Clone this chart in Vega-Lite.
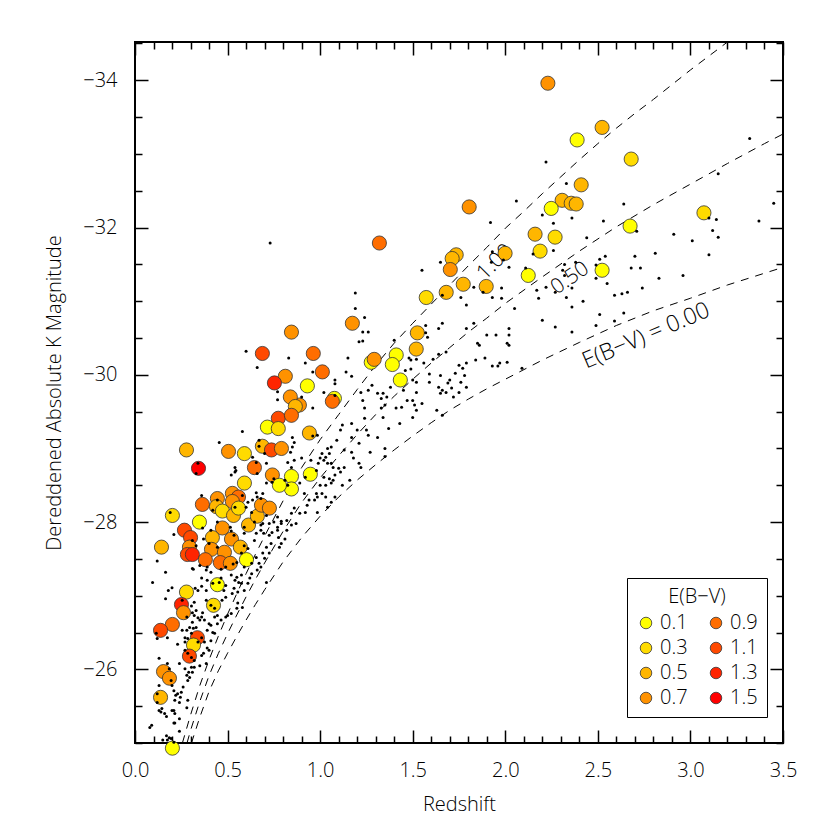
{
"$schema":"https://vega.github.io/schema/vega-lite/v6.json",
"width":648,"height":701,
"autosize":{"type":"none"},
"padding":{"left":135,"top":42,"right":47,"bottom":87},
"background":"white",
"config":{
"view":{"stroke":"black","strokeWidth":2},
"font":"Open Sans",
"axis":{"domain":false,"grid":false,"tickColor":"black","tickWidth":1.5,"labelFont":"Open Sans","labelFontSize":20,"labelColor":"black","labelFontWeight":300,"titleFont":"Open Sans","titleFontSize":20,"titleFontWeight":300,"titleColor":"black"},
"legend":{"orient":"none","legendX":492,"legendY":536,"columns":2,"direction":"vertical","titleFontSize":20,"titleFontWeight":300,"titleFont":"Open Sans","titleColor":"black","titleAnchor":"middle","titleAlign":"center","labelFontSize":20,"labelFont":"Open Sans","labelFontWeight":300,"labelColor":"black","symbolSize":133,"symbolType":"circle","symbolStrokeColor":"#333333","symbolStrokeWidth":0.8,"symbolOpacity":1,"strokeColor":"black","padding":9,"rowPadding":5,"columnPadding":18,"labelOffset":4,"titlePadding":6,"fillColor":"white"}
},
"datasets":{
"curves":[
{"c":"0.00","z":0.305,"m":-25.0},{"c":"0.00","z":0.35,"m":-25.35},{"c":"0.00","z":0.40,"m":-25.70},{"c":"0.00","z":0.45,"m":-25.98},{"c":"0.00","z":0.50,"m":-26.22},{"c":"0.00","z":0.55,"m":-26.45},{"c":"0.00","z":0.60,"m":-26.67},{"c":"0.00","z":0.65,"m":-26.88},{"c":"0.00","z":0.70,"m":-27.08},{"c":"0.00","z":0.80,"m":-27.46},{"c":"0.00","z":0.90,"m":-27.79},{"c":"0.00","z":1.00,"m":-28.08},{"c":"0.00","z":1.10,"m":-28.34},{"c":"0.00","z":1.20,"m":-28.57},{"c":"0.00","z":1.30,"m":-28.78},{"c":"0.00","z":1.40,"m":-28.98},{"c":"0.00","z":1.50,"m":-29.17},{"c":"0.00","z":1.60,"m":-29.35},{"c":"0.00","z":1.70,"m":-29.52},{"c":"0.00","z":1.80,"m":-29.67},{"c":"0.00","z":1.90,"m":-29.81},{"c":"0.00","z":2.00,"m":-29.94},{"c":"0.00","z":2.20,"m":-30.20},{"c":"0.00","z":2.40,"m":-30.44},{"c":"0.00","z":2.60,"m":-30.67},{"c":"0.00","z":2.80,"m":-30.87},{"c":"0.00","z":3.00,"m":-31.04},{"c":"0.00","z":3.20,"m":-31.22},{"c":"0.00","z":3.40,"m":-31.38},{"c":"0.00","z":3.50,"m":-31.46},
{"c":"0.50","z":0.281,"m":-25.0},{"c":"0.50","z":0.30,"m":-25.17},{"c":"0.50","z":0.35,"m":-25.565},{"c":"0.50","z":0.40,"m":-25.915},{"c":"0.50","z":0.45,"m":-26.215},{"c":"0.50","z":0.50,"m":-26.485},{"c":"0.50","z":0.55,"m":-26.74},{"c":"0.50","z":0.60,"m":-26.985},{"c":"0.50","z":0.65,"m":-27.22},{"c":"0.50","z":0.70,"m":-27.445},{"c":"0.50","z":0.80,"m":-27.875},{"c":"0.50","z":0.90,"m":-28.265},{"c":"0.50","z":1.00,"m":-28.60},{"c":"0.50","z":1.10,"m":-28.90},{"c":"0.50","z":1.20,"m":-29.19},{"c":"0.50","z":1.30,"m":-29.46},{"c":"0.50","z":1.40,"m":-29.71},{"c":"0.50","z":1.50,"m":-29.94},{"c":"0.50","z":1.60,"m":-30.16},{"c":"0.50","z":1.70,"m":-30.37},{"c":"0.50","z":1.80,"m":-30.58},{"c":"0.50","z":1.90,"m":-30.77},{"c":"0.50","z":2.00,"m":-30.97},{"c":"0.50","z":2.20,"m":-31.33},{"c":"0.50","z":2.40,"m":-31.68},{"c":"0.50","z":2.60,"m":-32.01},{"c":"0.50","z":2.80,"m":-32.31},{"c":"0.50","z":3.00,"m":-32.59},{"c":"0.50","z":3.20,"m":-32.87},{"c":"0.50","z":3.40,"m":-33.14},{"c":"0.50","z":3.50,"m":-33.27},
{"c":"1.00","z":0.256,"m":-25.0},{"c":"1.00","z":0.30,"m":-25.38},{"c":"1.00","z":0.35,"m":-25.78},{"c":"1.00","z":0.40,"m":-26.13},{"c":"1.00","z":0.45,"m":-26.45},{"c":"1.00","z":0.50,"m":-26.75},{"c":"1.00","z":0.55,"m":-27.03},{"c":"1.00","z":0.60,"m":-27.30},{"c":"1.00","z":0.65,"m":-27.56},{"c":"1.00","z":0.70,"m":-27.81},{"c":"1.00","z":0.80,"m":-28.29},{"c":"1.00","z":0.90,"m":-28.74},{"c":"1.00","z":1.00,"m":-29.12},{"c":"1.00","z":1.10,"m":-29.46},{"c":"1.00","z":1.20,"m":-29.80},{"c":"1.00","z":1.30,"m":-30.13},{"c":"1.00","z":1.40,"m":-30.43},{"c":"1.00","z":1.50,"m":-30.70},{"c":"1.00","z":1.60,"m":-30.96},{"c":"1.00","z":1.70,"m":-31.22},{"c":"1.00","z":1.80,"m":-31.48},{"c":"1.00","z":1.90,"m":-31.73},{"c":"1.00","z":2.00,"m":-31.99},{"c":"1.00","z":2.10,"m":-32.22},{"c":"1.00","z":2.20,"m":-32.46},{"c":"1.00","z":2.30,"m":-32.69},{"c":"1.00","z":2.40,"m":-32.92},{"c":"1.00","z":2.50,"m":-33.14},{"c":"1.00","z":2.60,"m":-33.35},{"c":"1.00","z":2.70,"m":-33.55},{"c":"1.00","z":2.80,"m":-33.74},{"c":"1.00","z":2.90,"m":-33.94},{"c":"1.00","z":3.00,"m":-34.14},{"c":"1.00","z":3.10,"m":-34.33},{"c":"1.00","z":3.20,"m":-34.52}
],
"labels":[
{"z":1.946,"m":-31.53,"t":"1.00","a":-45,"s":21},
{"z":2.35,"m":-31.31,"t":"0.50","a":-35,"s":21},
{"z":2.76,"m":-30.53,"t":"E(B−V) = 0.00","a":-23,"s":23}
],
"circles":[
{"z":2.23,"m":-33.96,"e":"0.7"},{"z":2.523,"m":-33.36,"e":"0.5"},{"z":2.388,"m":-33.19,"e":"0.1"},{"z":2.68,"m":-32.93,"e":"0.3"},{"z":2.41,"m":-32.58,"e":"0.5"},{"z":2.307,"m":-32.37,"e":"0.5"},{"z":2.356,"m":-32.33,"e":"0.5"},{"z":2.383,"m":-32.32,"e":"0.5"},{"z":2.248,"m":-32.26,"e":"0.1"},{"z":3.073,"m":-32.20,"e":"0.3"},{"z":2.161,"m":-31.91,"e":"0.5"},{"z":2.269,"m":-31.87,"e":"0.3"},{"z":2.188,"m":-31.68,"e":"0.3"},{"z":2.674,"m":-32.02,"e":"0.1"},{"z":2.523,"m":-31.42,"e":"0.1"},{"z":2.124,"m":-31.35,"e":"0.1"},{"z":1.999,"m":-31.65,"e":"0.5"},{"z":1.897,"m":-31.20,"e":"0.5"},{"z":1.805,"m":-32.28,"e":"0.7"},{"z":1.320,"m":-31.79,"e":"0.9"},{"z":1.735,"m":-31.63,"e":"0.5"},{"z":1.713,"m":-31.58,"e":"0.5"},{"z":1.703,"m":-31.43,"e":"0.7"},{"z":1.773,"m":-31.23,"e":"0.5"},{"z":1.681,"m":-31.12,"e":"0.5"},{"z":1.573,"m":-31.05,"e":"0.3"},{"z":1.174,"m":-30.70,"e":"0.7"},{"z":1.525,"m":-30.57,"e":"0.5"},{"z":1.519,"m":-30.35,"e":"0.5"},{"z":1.411,"m":-30.27,"e":"0.1"},{"z":1.276,"m":-30.17,"e":"0.1"},{"z":1.292,"m":-30.21,"e":"0.7"},{"z":1.390,"m":-30.14,"e":"0.1"},{"z":1.433,"m":-29.93,"e":"0.1"},{"z":0.963,"m":-30.29,"e":"0.9"},{"z":1.012,"m":-30.04,"e":"0.9"},{"z":0.931,"m":-29.85,"e":"0.1"},{"z":1.077,"m":-29.68,"e":"0.1"},{"z":1.066,"m":-29.64,"e":"0.9"},{"z":0.888,"m":-29.59,"e":"0.7"},{"z":0.942,"m":-29.21,"e":"0.5"},{"z":0.947,"m":-28.65,"e":"0.1"},{"z":0.845,"m":-30.58,"e":"0.7"},{"z":0.688,"m":-30.29,"e":"1.1"},{"z":0.812,"m":-29.98,"e":"0.7"},{"z":0.753,"m":-29.89,"e":"1.3"},{"z":0.839,"m":-29.70,"e":"0.7"},{"z":0.866,"m":-29.57,"e":"0.5"},{"z":0.774,"m":-29.41,"e":"1.1"},{"z":0.845,"m":-29.45,"e":"0.9"},{"z":0.715,"m":-29.29,"e":"0.1"},{"z":0.774,"m":-29.27,"e":"0.3"},{"z":0.278,"m":-28.98,"e":"0.5"},{"z":0.505,"m":-28.96,"e":"0.7"},{"z":0.591,"m":-28.93,"e":"0.3"},{"z":0.688,"m":-29.03,"e":"0.5"},{"z":0.737,"m":-28.98,"e":"1.1"},{"z":0.791,"m":-29.00,"e":"0.7"},{"z":0.645,"m":-28.74,"e":"0.9"},{"z":0.343,"m":-28.73,"e":"1.5"},{"z":0.591,"m":-28.53,"e":"0.3"},{"z":0.742,"m":-28.64,"e":"0.7"},{"z":0.845,"m":-28.62,"e":"0.1"},{"z":0.845,"m":-28.45,"e":"0.1"},{"z":0.780,"m":-28.50,"e":"0.1"},{"z":0.445,"m":-28.32,"e":"0.7"},{"z":0.526,"m":-28.39,"e":"0.7"},{"z":0.559,"m":-28.34,"e":"0.9"},{"z":0.526,"m":-28.28,"e":"0.7"},{"z":0.364,"m":-28.24,"e":"0.9"},{"z":0.440,"m":-28.21,"e":"0.5"},{"z":0.472,"m":-28.15,"e":"0.3"},{"z":0.532,"m":-28.09,"e":"0.5"},{"z":0.559,"m":-28.19,"e":"0.3"},{"z":0.202,"m":-28.09,"e":"0.3"},{"z":0.348,"m":-28.00,"e":"0.1"},{"z":0.267,"m":-27.89,"e":"1.1"},{"z":0.300,"m":-27.79,"e":"1.1"},{"z":0.472,"m":-27.92,"e":"0.7"},{"z":0.418,"m":-27.79,"e":"0.5"},{"z":0.613,"m":-27.96,"e":"0.5"},{"z":0.661,"m":-28.08,"e":"0.5"},{"z":0.683,"m":-28.23,"e":"0.7"},{"z":0.726,"m":-28.19,"e":"0.7"},{"z":0.143,"m":-27.66,"e":"0.5"},{"z":0.521,"m":-27.77,"e":"0.7"},{"z":0.569,"m":-27.66,"e":"0.5"},{"z":0.602,"m":-27.49,"e":"0.1"},{"z":0.294,"m":-27.66,"e":"0.7"},{"z":0.413,"m":-27.63,"e":"0.7"},{"z":0.483,"m":-27.59,"e":"0.7"},{"z":0.283,"m":-27.56,"e":"1.1"},{"z":0.310,"m":-27.56,"e":"1.3"},{"z":0.380,"m":-27.49,"e":"0.9"},{"z":0.461,"m":-27.45,"e":"0.9"},{"z":0.515,"m":-27.44,"e":"0.7"},{"z":0.445,"m":-27.15,"e":"0.1"},{"z":0.278,"m":-27.05,"e":"0.3"},{"z":0.251,"m":-26.88,"e":"1.3"},{"z":0.262,"m":-26.77,"e":"0.7"},{"z":0.424,"m":-26.87,"e":"0.3"},{"z":0.202,"m":-26.61,"e":"0.9"},{"z":0.138,"m":-26.53,"e":"1.1"},{"z":0.337,"m":-26.43,"e":"1.1"},{"z":0.316,"m":-26.33,"e":"0.3"},{"z":0.294,"m":-26.18,"e":"1.1"},{"z":0.154,"m":-25.97,"e":"0.7"},{"z":0.186,"m":-25.88,"e":"0.7"},{"z":0.138,"m":-25.62,"e":"0.5"},{"z":0.202,"m":-24.93,"e":"0.1"}
],
"dots":[
{"z":0.08,"m":-25.21},{"z":0.09,"m":-25.24},{"z":0.095,"m":-27.18},{"z":0.12,"m":-27.47},{"z":0.115,"m":-26.49},{"z":0.12,"m":-26.42},{"z":0.13,"m":-26.15},{"z":0.13,"m":-25.78},{"z":0.12,"m":-25.67},{"z":0.12,"m":-25.55},{"z":0.13,"m":-25.44},{"z":0.14,"m":-25.42},{"z":0.16,"m":-25.40},{"z":0.17,"m":-25.36},{"z":0.15,"m":-25.04},{"z":0.17,"m":-25.10},{"z":0.175,"m":-25.04},{"z":0.165,"m":-27.32},{"z":0.165,"m":-26.96},{"z":0.18,"m":-27.07},{"z":0.20,"m":-27.11},{"z":0.175,"m":-26.43},{"z":0.175,"m":-26.08},{"z":0.185,"m":-26.01},{"z":0.195,"m":-25.85},{"z":0.20,"m":-25.78},{"z":0.21,"m":-25.71},{"z":0.22,"m":-25.65},{"z":0.23,"m":-25.67},{"z":0.245,"m":-25.62},{"z":0.24,"m":-25.55},{"z":0.21,"m":-25.44},{"z":0.215,"m":-25.40},{"z":0.21,"m":-25.27},{"z":0.24,"m":-25.16},{"z":0.185,"m":-25.07},{"z":0.21,"m":-25.01},
{"z":0.255,"m":-26.94},{"z":0.255,"m":-26.53},{"z":0.28,"m":-26.53},{"z":0.28,"m":-26.71},{"z":0.27,"m":-26.43},{"z":0.285,"m":-26.42},{"z":0.27,"m":-26.37},{"z":0.23,"m":-26.34},{"z":0.27,"m":-26.26},{"z":0.285,"m":-26.22},{"z":0.24,"m":-26.08},{"z":0.27,"m":-26.01},{"z":0.29,"m":-25.96},{"z":0.295,"m":-25.89},{"z":0.26,"m":-25.76},{"z":0.285,"m":-25.58},{"z":0.315,"m":-27.36},{"z":0.315,"m":-26.56},{"z":0.33,"m":-26.57},{"z":0.295,"m":-26.57},{"z":0.325,"m":-27.10},{"z":0.32,"m":-26.91},{"z":0.305,"m":-26.86},{"z":0.31,"m":-26.77},{"z":0.33,"m":-26.80},{"z":0.32,"m":-26.12},{"z":0.305,"m":-26.16},{"z":0.32,"m":-26.03},{"z":0.35,"m":-26.05},{"z":0.36,"m":-26.19},{"z":0.37,"m":-26.22},{"z":0.35,"m":-26.67},{"z":0.36,"m":-26.71},{"z":0.36,"m":-27.13},{"z":0.21,"m":-27.83},{"z":0.365,"m":-27.92},{"z":0.375,"m":-26.67},
{"z":0.32,"m":-26.73},{"z":0.34,"m":-26.70},{"z":0.365,"m":-26.77},{"z":0.41,"m":-26.60},{"z":0.43,"m":-26.49},{"z":0.36,"m":-26.43},{"z":0.39,"m":-26.29},{"z":0.385,"m":-26.08},{"z":0.305,"m":-26.03},{"z":0.31,"m":-25.96},{"z":0.28,"m":-25.92},{"z":0.285,"m":-25.85},{"z":0.25,"m":-25.69},{"z":0.215,"m":-25.58},{"z":0.20,"m":-25.44},{"z":0.28,"m":-25.48},{"z":0.24,"m":-25.33},{"z":0.215,"m":-25.27},{"z":0.195,"m":-25.06},{"z":0.305,"m":-26.49},{"z":0.34,"m":-26.37},{"z":0.31,"m":-26.64},{"z":0.52,"m":-26.76},{"z":0.555,"m":-26.90},{"z":0.55,"m":-26.83},{"z":0.145,"m":-25.47},
{"z":0.385,"m":-27.35},{"z":0.41,"m":-27.32},{"z":0.385,"m":-27.07},{"z":0.40,"m":-26.62},{"z":0.39,"m":-26.53},{"z":0.42,"m":-26.50},{"z":0.375,"m":-26.37},{"z":0.41,"m":-26.39},{"z":0.40,"m":-26.26},{"z":0.41,"m":-26.87},{"z":0.43,"m":-26.83},{"z":0.445,"m":-26.73},{"z":0.445,"m":-26.62},{"z":0.465,"m":-26.67},{"z":0.49,"m":-26.71},{"z":0.47,"m":-26.94},{"z":0.49,"m":-26.98},{"z":0.525,"m":-27.03},{"z":0.535,"m":-27.10},{"z":0.555,"m":-27.05},{"z":0.455,"m":-27.18},{"z":0.465,"m":-27.24},{"z":0.49,"m":-27.14},{"z":0.52,"m":-27.28},{"z":0.55,"m":-27.25},{"z":0.56,"m":-27.18},{"z":0.575,"m":-27.17},{"z":0.465,"m":-27.36},{"z":0.49,"m":-27.39},{"z":0.53,"m":-27.43},{"z":0.55,"m":-27.45},{"z":0.59,"m":-27.39},{"z":0.63,"m":-27.44},{"z":0.575,"m":-27.58},{"z":0.62,"m":-27.24},{"z":0.52,"m":-27.88},{"z":0.535,"m":-27.82},
{"z":0.445,"m":-28.0},{"z":0.68,"m":-27.96},{"z":0.695,"m":-27.85},{"z":0.725,"m":-27.82},{"z":0.74,"m":-27.86},{"z":0.77,"m":-27.93},{"z":0.79,"m":-27.98},{"z":0.87,"m":-27.98},{"z":0.645,"m":-28.0},{"z":0.775,"m":-27.79},{"z":0.69,"m":-27.58},{"z":0.71,"m":-27.66},{"z":0.79,"m":-27.71},{"z":0.81,"m":-27.77},{"z":0.655,"m":-27.52},{"z":0.71,"m":-27.18},{"z":0.61,"m":-27.17},{"z":0.59,"m":-27.07},
{"z":0.36,"m":-28.36},{"z":0.42,"m":-28.16},{"z":0.41,"m":-27.89},{"z":0.445,"m":-27.66},{"z":0.40,"m":-27.71},{"z":0.35,"m":-27.41},{"z":0.31,"m":-27.37},{"z":0.36,"m":-27.24},{"z":0.39,"m":-27.39},{"z":0.39,"m":-27.21},{"z":0.42,"m":-27.17},{"z":0.34,"m":-27.07},{"z":0.385,"m":-26.94},{"z":0.48,"m":-27.07},{"z":0.54,"m":-27.21},{"z":0.575,"m":-27.28},{"z":0.63,"m":-27.30},{"z":0.68,"m":-27.39},{"z":0.70,"m":-27.51},{"z":0.725,"m":-27.58},{"z":0.735,"m":-27.71},{"z":0.78,"m":-27.66},{"z":0.67,"m":-27.44},{"z":0.66,"m":-27.35},{"z":0.58,"m":-26.84},{"z":0.50,"m":-26.73},{"z":0.43,"m":-26.71},
{"z":0.445,"m":-28.30},{"z":0.515,"m":-27.93},{"z":0.59,"m":-27.85},{"z":0.59,"m":-27.68},{"z":0.31,"m":-27.75},{"z":0.19,"m":-28.13},{"z":0.33,"m":-27.68},{"z":0.37,"m":-27.77},{"z":0.54,"m":-28.20},{"z":0.655,"m":-28.40},{"z":0.68,"m":-28.32},{"z":0.74,"m":-28.54},{"z":0.66,"m":-28.66},
{"z":0.455,"m":-29.08},{"z":0.54,"m":-28.74},{"z":0.54,"m":-28.68},{"z":0.58,"m":-28.36},{"z":0.61,"m":-28.27},{"z":0.635,"m":-28.30},{"z":0.63,"m":-28.13},{"z":0.66,"m":-28.34},{"z":0.69,"m":-28.39},{"z":0.71,"m":-28.53},{"z":0.75,"m":-28.59},{"z":0.81,"m":-28.57},{"z":0.825,"m":-28.50},{"z":0.89,"m":-28.53},{"z":0.915,"m":-28.39},{"z":1.0,"m":-28.50},{"z":1.01,"m":-28.39},{"z":1.03,"m":-28.34},{"z":0.985,"m":-28.34},{"z":0.94,"m":-28.30},{"z":0.86,"m":-28.19},{"z":0.845,"m":-28.12},{"z":0.82,"m":-28.02},{"z":0.79,"m":-28.01},{"z":0.77,"m":-28.07},{"z":0.75,"m":-28.0},{"z":0.725,"m":-27.98},{"z":0.71,"m":-28.09},{"z":0.69,"m":-27.98},{"z":0.77,"m":-27.89},{"z":0.82,"m":-27.89},{"z":0.845,"m":-27.96},{"z":0.89,"m":-28.12},{"z":0.93,"m":-28.23},{"z":0.985,"m":-28.13},{"z":1.04,"m":-28.20},{"z":1.06,"m":-28.27},{"z":1.06,"m":-28.53},{"z":1.05,"m":-28.59},{"z":1.04,"m":-28.80},{"z":1.02,"m":-28.84},{"z":1.0,"m":-28.87},{"z":1.05,"m":-28.93},{"z":1.04,"m":-29.0},{"z":1.06,"m":-29.02},{"z":0.985,"m":-29.18},{"z":0.85,"m":-29.15},{"z":0.86,"m":-29.08},{"z":0.85,"m":-29.02},{"z":0.90,"m":-28.87},{"z":0.825,"m":-28.81},{"z":0.845,"m":-28.74},{"z":0.635,"m":-28.88},{"z":0.655,"m":-28.81},{"z":0.60,"m":-28.20},{"z":0.68,"m":-27.89},{"z":0.655,"m":-27.85},{"z":0.645,"m":-27.75},{"z":0.59,"m":-27.93},{"z":0.61,"m":-27.64},
{"z":1.23,"m":-30.58},{"z":1.26,"m":-30.58},{"z":1.23,"m":-30.46},{"z":1.40,"m":-30.47},{"z":1.58,"m":-30.51},{"z":1.15,"m":-30.23},{"z":1.14,"m":-30.04},{"z":1.17,"m":-29.98},{"z":1.08,"m":-29.93},{"z":1.08,"m":-29.88},{"z":0.92,"m":-30.16},{"z":0.96,"m":-30.04},{"z":1.48,"m":-30.23},{"z":1.52,"m":-30.21},{"z":1.56,"m":-30.16},{"z":1.61,"m":-30.21},{"z":1.64,"m":-30.28},{"z":1.68,"m":-30.31},{"z":1.46,"m":-30.06},{"z":1.49,"m":-30.08},{"z":1.52,"m":-29.90},{"z":1.52,"m":-29.76},{"z":1.59,"m":-30.01},{"z":1.59,"m":-29.90},{"z":1.65,"m":-29.99},{"z":1.69,"m":-29.89},{"z":1.64,"m":-29.83},{"z":1.65,"m":-29.75},{"z":1.68,"m":-29.76},{"z":1.71,"m":-29.82},{"z":1.72,"m":-29.70},{"z":1.73,"m":-30.02},{"z":1.75,"m":-30.13},{"z":1.77,"m":-30.09},{"z":1.78,"m":-29.99},{"z":1.76,"m":-29.90},{"z":1.75,"m":-29.76},{"z":1.79,"m":-30.16},{"z":1.84,"m":-30.20},{"z":1.89,"m":-30.23},{"z":1.93,"m":-30.12},{"z":1.97,"m":-30.16},{"z":2.01,"m":-30.17},{"z":1.86,"m":-30.40},{"z":1.90,"m":-30.54},{"z":1.95,"m":-30.54},{"z":2.02,"m":-30.54},{"z":2.02,"m":-30.40},{"z":1.63,"m":-29.52},{"z":1.66,"m":-29.45},
{"z":1.08,"m":-29.72},{"z":1.22,"m":-29.76},{"z":1.26,"m":-29.79},{"z":1.31,"m":-29.75},{"z":1.33,"m":-29.68},{"z":1.36,"m":-29.70},{"z":1.23,"m":-29.65},{"z":1.24,"m":-29.55},{"z":1.33,"m":-29.55},{"z":1.35,"m":-29.59},{"z":1.41,"m":-29.55},{"z":1.44,"m":-29.56},{"z":1.47,"m":-29.65},{"z":1.50,"m":-29.65},{"z":1.51,"m":-29.59},{"z":1.55,"m":-29.61},{"z":1.52,"m":-29.52},{"z":1.50,"m":-29.42},{"z":1.43,"m":-29.34},{"z":1.34,"m":-29.42},{"z":1.24,"m":-29.41},{"z":1.17,"m":-29.34},{"z":1.12,"m":-29.32},{"z":1.11,"m":-29.25},{"z":1.20,"m":-29.25},{"z":1.25,"m":-29.25},{"z":1.26,"m":-29.18},{"z":1.31,"m":-29.15},{"z":1.37,"m":-29.27},{"z":1.09,"m":-29.11},{"z":1.17,"m":-29.15},{"z":1.21,"m":-29.07},{"z":1.13,"m":-28.98},{"z":1.17,"m":-28.95},{"z":1.18,"m":-28.87},{"z":1.21,"m":-28.80},{"z":1.22,"m":-28.74},{"z":1.27,"m":-28.95},{"z":1.35,"m":-29.0},{"z":1.35,"m":-28.89},{"z":1.01,"m":-28.93},{"z":1.03,"m":-28.88},{"z":1.06,"m":-28.80},{"z":1.07,"m":-28.74},{"z":1.10,"m":-28.73},{"z":1.13,"m":-28.74},{"z":1.11,"m":-28.68},{"z":1.08,"m":-28.64},{"z":1.07,"m":-28.57},{"z":1.16,"m":-28.57},{"z":1.12,"m":-28.50},{"z":1.03,"m":-28.50},{"z":1.08,"m":-28.34},{"z":0.98,"m":-28.39},{"z":0.97,"m":-28.30},{"z":0.92,"m":-28.13},{"z":0.98,"m":-28.70},{"z":0.99,"m":-28.80},{"z":0.95,"m":-28.84},{"z":0.92,"m":-28.61},{"z":0.96,"m":-29.55},{"z":1.02,"m":-29.76},{"z":1.02,"m":-28.61},
{"z":2.22,"m":-32.89},{"z":2.33,"m":-32.60},{"z":2.06,"m":-32.36},{"z":2.20,"m":-32.17},{"z":2.26,"m":-32.06},{"z":1.92,"m":-32.07},{"z":1.93,"m":-31.67},{"z":1.99,"m":-31.56},{"z":2.02,"m":-31.46},{"z":1.65,"m":-31.53},{"z":1.55,"m":-31.42},{"z":1.66,"m":-31.08},{"z":1.76,"m":-31.05},{"z":1.79,"m":-30.95},{"z":1.83,"m":-31.19},{"z":1.88,"m":-31.12},{"z":1.93,"m":-31.05},{"z":1.98,"m":-31.18},{"z":2.05,"m":-30.90},{"z":2.11,"m":-31.45},{"z":2.15,"m":-31.64},{"z":2.17,"m":-31.15},{"z":2.22,"m":-31.19},{"z":2.32,"m":-31.35},{"z":2.33,"m":-31.05},{"z":2.36,"m":-30.92},{"z":2.20,"m":-30.74},{"z":2.27,"m":-30.65},{"z":2.36,"m":-30.58},{"z":1.19,"m":-31.11},{"z":1.19,"m":-30.90},{"z":1.24,"m":-30.78},{"z":1.64,"m":-30.63},{"z":1.66,"m":-30.70},{"z":1.57,"m":-30.67},{"z":1.57,"m":-30.57},{"z":1.79,"m":-30.63},{"z":1.83,"m":-30.70},{"z":2.02,"m":-30.63},{"z":2.01,"m":-30.43},{"z":1.85,"m":-30.43},{"z":1.96,"m":-30.12},{"z":1.66,"m":-29.79},{"z":1.70,"m":-29.93},{"z":1.79,"m":-29.83},{"z":1.49,"m":-30.20},{"z":1.50,"m":-29.93},{"z":1.38,"m":-29.83},{"z":1.34,"m":-29.75},{"z":1.45,"m":-29.79},{"z":1.28,"m":-29.86},
{"z":2.64,"m":-32.32},{"z":3.45,"m":-32.33},{"z":3.37,"m":-32.09},{"z":3.10,"m":-32.13},{"z":3.14,"m":-32.11},{"z":3.12,"m":-31.96},{"z":3.15,"m":-31.87},{"z":3.15,"m":-32.73},{"z":3.10,"m":-31.63},{"z":2.91,"m":-31.91},{"z":3.01,"m":-31.82},{"z":2.53,"m":-32.09},{"z":2.71,"m":-31.95},{"z":2.44,"m":-31.86},{"z":2.36,"m":-32.13},{"z":2.26,"m":-31.69},{"z":2.38,"m":-31.53},{"z":2.32,"m":-31.50},{"z":2.31,"m":-31.42},{"z":2.36,"m":-31.18},{"z":2.18,"m":-31.04},{"z":2.27,"m":-31.12},{"z":2.42,"m":-31.0},{"z":2.51,"m":-31.57},{"z":2.54,"m":-31.61},{"z":2.49,"m":-31.49},{"z":2.49,"m":-31.31},{"z":2.55,"m":-31.24},{"z":2.70,"m":-31.61},{"z":2.81,"m":-31.65},{"z":2.68,"m":-31.45},{"z":2.73,"m":-31.45},{"z":2.83,"m":-31.31},{"z":2.96,"m":-31.35},{"z":2.74,"m":-31.18},{"z":2.66,"m":-31.12},{"z":2.63,"m":-31.10},{"z":2.59,"m":-31.08},{"z":2.64,"m":-30.84},{"z":2.59,"m":-30.73},{"z":2.51,"m":-30.82},{"z":2.49,"m":-30.67},{"z":2.09,"m":-30.09},{"z":3.32,"m":-33.21},{"z":1.925,"m":-31.53},{"z":1.98,"m":-31.04},
{"z":0.60,"m":-30.32},{"z":0.66,"m":-30.10},{"z":0.83,"m":-30.23},{"z":1.21,"m":-30.45},{"z":0.77,"m":-29.77},{"z":0.77,"m":-29.66},{"z":0.90,"m":-29.70},{"z":0.96,"m":-29.17},{"z":0.58,"m":-29.23},{"z":0.67,"m":-29.11},{"z":0.67,"m":-29.03},{"z":0.70,"m":-28.93},{"z":0.84,"m":-28.95},{"z":0.86,"m":-28.84},{"z":0.545,"m":-28.70},{"z":0.33,"m":-28.66},{"z":0.34,"m":-28.80},{"z":0.71,"m":-28.80},{"z":0.52,"m":-28.64},{"z":0.73,"m":-31.79}
]
},
"layer":[
{"data":{"name":"curves"},
 "mark":{"type":"line","stroke":"black","strokeWidth":1,"strokeDash":[8,7],"clip":true},
 "encoding":{
  "x":{"field":"z","type":"quantitative","scale":{"domain":[0,3.5],"nice":false,"zero":false},"axis":null},
  "y":{"field":"m","type":"quantitative","scale":{"domain":[-34.52,-25],"nice":false,"zero":false,"reverse":true},"axis":null},
  "detail":{"field":"c"}
 }},
{"data":{"name":"labels"},
 "mark":{"type":"text","font":"Open Sans","fontWeight":300,"color":"black","align":"center","baseline":"middle"},
 "encoding":{
  "x":{"field":"z","type":"quantitative","scale":{"domain":[0,3.5],"nice":false,"zero":false},"axis":null},
  "y":{"field":"m","type":"quantitative","scale":{"domain":[-34.52,-25],"nice":false,"zero":false,"reverse":true},"axis":null},
  "text":{"field":"t"},
  "angle":{"field":"a","type":"quantitative","scale":null},
  "size":{"field":"s","type":"quantitative","scale":null}
 }},
{"data":{"name":"circles"},
 "mark":{"type":"circle","size":200,"stroke":"#333333","strokeWidth":0.8,"opacity":1},
 "encoding":{
  "x":{"field":"z","type":"quantitative","scale":{"domain":[0,3.5],"nice":false,"zero":false},
   "axis":{"orient":"bottom","title":"Redshift","values":[0,0.1,0.2,0.3,0.4,0.5,0.6,0.7,0.8,0.9,1,1.1,1.2,1.3,1.4,1.5,1.6,1.7,1.8,1.9,2,2.1,2.2,2.3,2.4,2.5,2.6,2.7,2.8,2.9,3,3.1,3.2,3.3,3.4,3.5],
   "labelExpr":"round(datum.value*10) % 5 == 0 ? format(datum.value, '.1f') : ''",
   "tickSize":{"condition":{"test":"round(datum.value*10) % 5 == 0","value":-13},"value":-7},
   "labelPadding":30,"titlePadding":8,"labelFlush":false,"labelOverlap":false}},
  "y":{"field":"m","type":"quantitative","scale":{"domain":[-34.52,-25],"nice":false,"zero":false,"reverse":true},
   "axis":{"orient":"left","title":"Dereddened Absolute K Magnitude","values":[-34.5,-34,-33.5,-33,-32.5,-32,-31.5,-31,-30.5,-30,-29.5,-29,-28.5,-28,-27.5,-27,-26.5,-26,-25.5,-25],
   "labelExpr":"round(datum.value*2) % 4 == 0 ? format(datum.value, 'd') : ''",
   "tickSize":{"condition":{"test":"round(datum.value*2) % 4 == 0","value":-13},"value":-7},
   "labelPadding":31,"titlePadding":18,"labelFlush":false,"labelOverlap":false}},
  "color":{"field":"e","type":"nominal",
   "scale":{"domain":["0.1","0.3","0.5","0.7","0.9","1.1","1.3","1.5"],"range":["#FFFF00","#FFDB00","#FFB600","#FF9200","#FF6D00","#FF4900","#FF2400","#FF0000"]},
   "legend":{"title":"E(B−V)"}}
 }},
{"data":{"name":"dots"},
 "mark":{"type":"circle","size":9,"color":"black","opacity":1},
 "encoding":{
  "x":{"field":"z","type":"quantitative","scale":{"domain":[0,3.5],"nice":false,"zero":false},
   "axis":{"orient":"top","title":null,"labels":false,"values":[0,0.1,0.2,0.3,0.4,0.5,0.6,0.7,0.8,0.9,1,1.1,1.2,1.3,1.4,1.5,1.6,1.7,1.8,1.9,2,2.1,2.2,2.3,2.4,2.5,2.6,2.7,2.8,2.9,3,3.1,3.2,3.3,3.4,3.5],
   "tickSize":{"condition":{"test":"round(datum.value*10) % 5 == 0","value":-13},"value":-7}}},
  "y":{"field":"m","type":"quantitative","scale":{"domain":[-34.52,-25],"nice":false,"zero":false,"reverse":true},
   "axis":{"orient":"right","title":null,"labels":false,"values":[-34.5,-34,-33.5,-33,-32.5,-32,-31.5,-31,-30.5,-30,-29.5,-29,-28.5,-28,-27.5,-27,-26.5,-26,-25.5,-25],
   "tickSize":{"condition":{"test":"round(datum.value*2) % 4 == 0","value":-13},"value":-7}}}
 }}
],
"resolve":{"axis":{"x":"independent","y":"independent"}}
}
